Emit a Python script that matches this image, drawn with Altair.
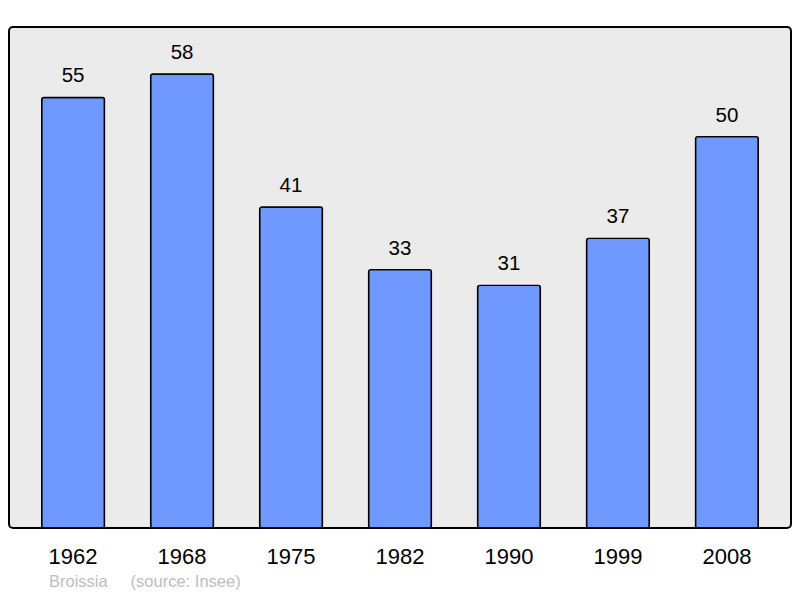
import altair as alt
import pandas as pd

years = ["1962", "1968", "1975", "1982", "1990", "1999", "2008"]
population = [55, 58, 41, 33, 31, 37, 50]
footer = "Broissia\u00a0\u00a0\u00a0\u00a0\u00a0(source: Insee)"

df = pd.DataFrame({"year": years, "pop": population})

x = alt.X("year:N", sort=years, title=None,
          scale=alt.Scale(paddingInner=0.424, paddingOuter=0.3),
          axis=alt.Axis(labelAngle=0, domain=False, ticks=False, labelFontSize=22,
                        labelColor="#000000", labelPadding=35, labelFont="Liberation Sans",
                        labelBaseline="alphabetic"))
y = alt.Y("pop:Q", title=None, scale=alt.Scale(domain=[0, 64], nice=False, zero=True),
          axis=None)

bars = alt.Chart(df).mark_bar(color="#7099ff", stroke="#000000", strokeWidth=1.4,
                              cornerRadius=2).encode(x=x, y=y)
labels = alt.Chart(df).mark_text(fontSize=20.5, font="Liberation Sans", baseline="alphabetic",
                                 dy=-15, color="#000000").encode(x=x, y=y, text="pop:Q")

chart = (bars + labels).properties(
    width=782, height=501,
    autosize=alt.AutoSizeParams(type="none"),
    padding={"left": 1, "top": 19, "right": 1, "bottom": 62},
    title=alt.TitleParams(footer, orient="bottom", anchor="start", fontSize=16.5,
                          fontWeight="normal", color="#bdbdbd", font="Liberation Sans",
                          dx=40, offset=7),
).configure(background="#ffffff").configure_view(
    fill="#ebebeb", stroke="#000000", strokeWidth=2, cornerRadius=4
)

chart.save("out.html", embed_options={"renderer": "svg", "actions": False})
